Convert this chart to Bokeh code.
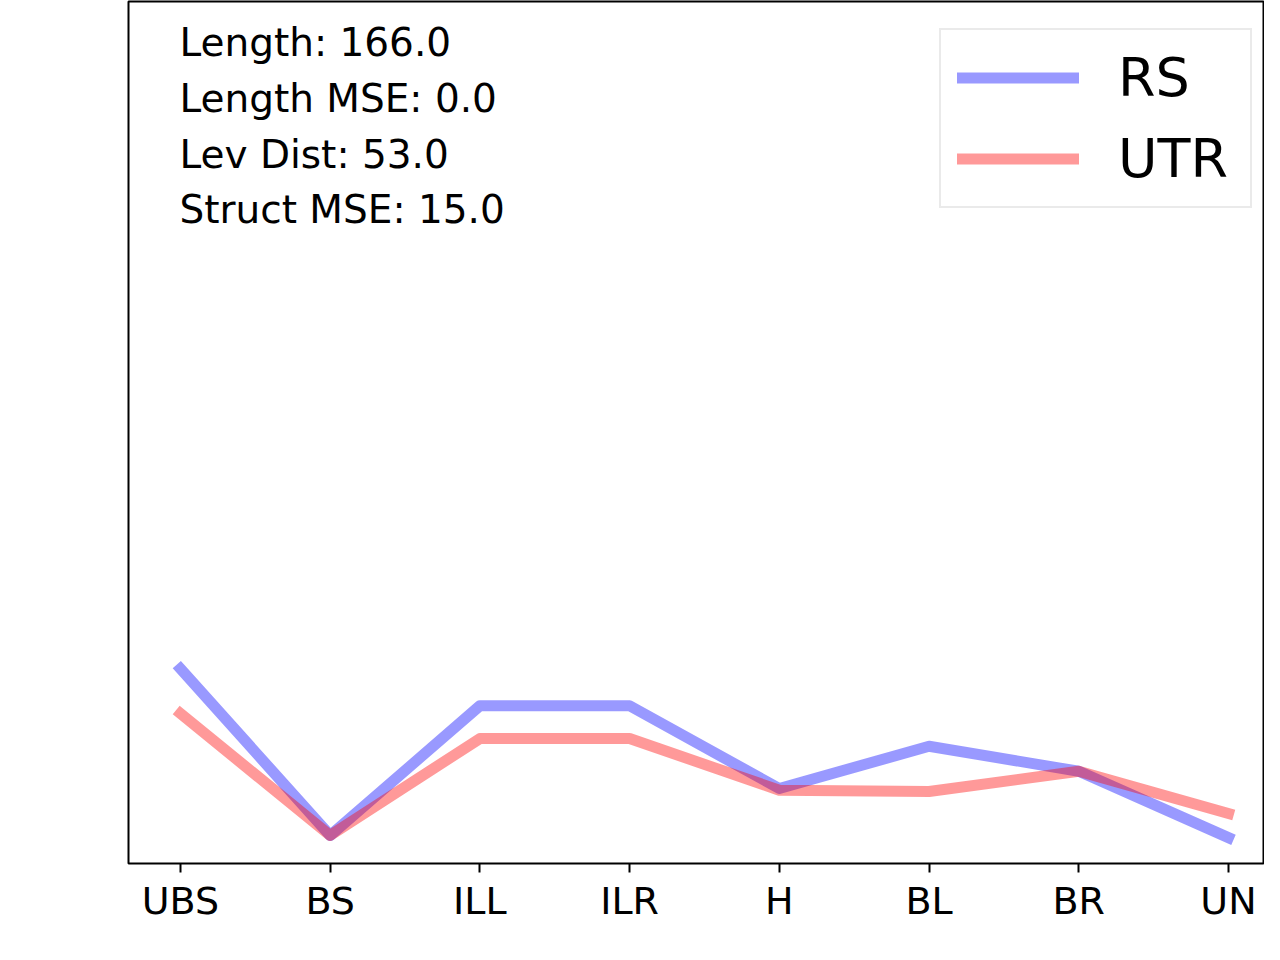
from bokeh.plotting import figure
from bokeh.models import Range1d, FixedTicker, Legend, LegendItem, Label
from bokeh.embed import file_html
from bokeh.resources import INLINE

categories = ["UBS", "BS", "ILL", "ILR", "H", "BL", "BR", "UN"]
rs_values = [22.6, 3.25, 18.3, 18.3, 8.7, 13.6, 10.7, 3.0]
utr_values = [17.4, 3.25, 14.5, 14.5, 8.5, 8.35, 10.7, 5.8]
stats_labels = ["Length: 166.0", "Length MSE: 0.0", "Lev Dist: 53.0", "Struct MSE: 15.0"]
stats_y = [95.2, 88.8, 82.3, 75.9]

x = list(range(len(categories)))
FONT = "DejaVu Sans"

p = figure(width=1264, height=944, output_backend="svg", toolbar_location=None,
           x_range=Range1d(-0.347, 7.234), y_range=Range1d(0, 100),
           min_border_left=128, min_border_right=1, min_border_top=1, min_border_bottom=81)

r1 = p.line(x, rs_values, line_color="blue", line_alpha=0.4, line_width=11,
            line_cap="square", line_join="round")
r2 = p.line(x, utr_values, line_color="red", line_alpha=0.4, line_width=11,
            line_cap="square", line_join="round")

for txt, yy in zip(stats_labels, stats_y):
    p.add_layout(Label(x=-0.007, y=yy, text=txt, text_font=FONT, text_font_size="39px",
                       text_color="black", text_align="left", text_baseline="alphabetic"))

legend = Legend(items=[LegendItem(label="RS", renderers=[r1]),
                       LegendItem(label="UTR", renderers=[r2])],
                location=(811, 655), margin=0, padding=16, spacing=18,
                glyph_width=122, glyph_height=63, label_height=63, label_width=116,
                label_standoff=39,
                label_text_font_size="54px", label_text_font=FONT, label_text_color="black",
                border_line_color="#d6d6d6", border_line_width=2,
                background_fill_color="white", background_fill_alpha=1)
p.add_layout(legend)

p.yaxis.visible = False
p.grid.visible = False
p.outline_line_color = "black"
p.outline_line_width = 2

p.xaxis.ticker = FixedTicker(ticks=x)
p.xaxis.major_label_overrides = {i: c for i, c in enumerate(categories)}
p.xaxis.axis_line_color = None
p.xaxis.minor_tick_line_color = None
p.xaxis.major_tick_out = 9
p.xaxis.major_tick_in = 0
p.xaxis.major_tick_line_width = 2
p.xaxis.major_tick_line_color = "black"
p.xaxis.major_label_text_font = FONT
p.xaxis.major_label_text_font_size = "38px"
p.xaxis.major_label_text_color = "black"
p.xaxis.major_label_standoff = 6

open("out.html", "w").write(file_html(p, INLINE))
